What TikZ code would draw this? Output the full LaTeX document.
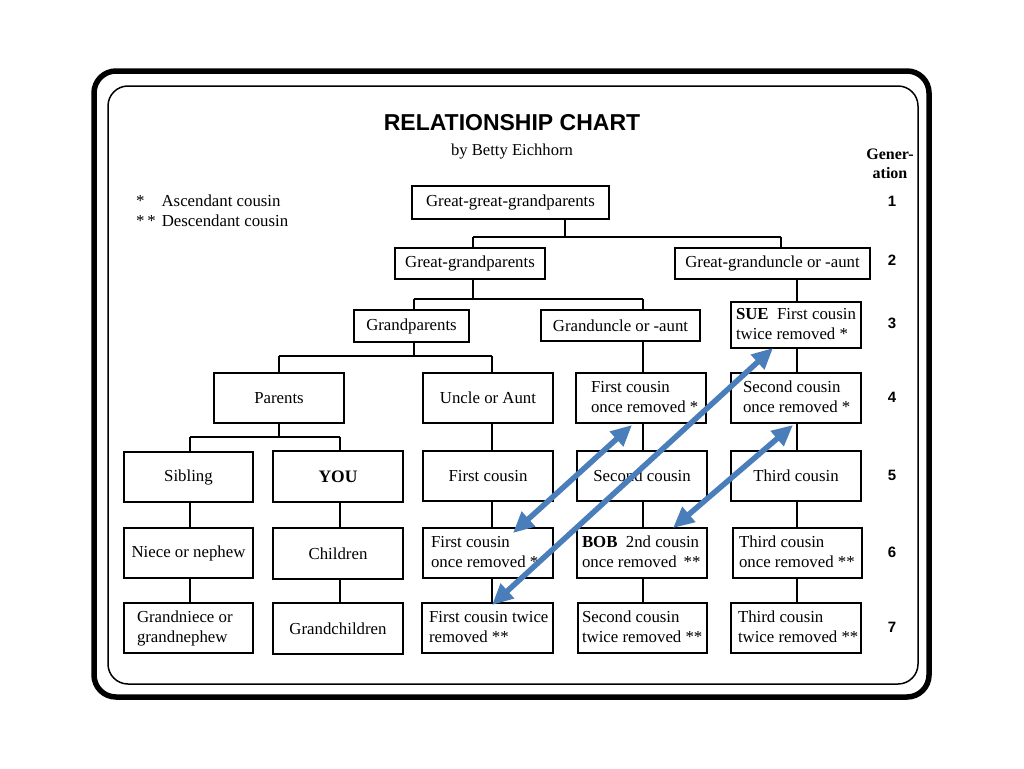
\documentclass[tikz,border=0pt]{standalone}
\usepackage{fontspec}
\setmainfont{Liberation Serif}
\newfontfamily\sansbf{Liberation Sans}[BoldFont={* Bold}]
\usetikzlibrary{arrows.meta}
\definecolor{arrowblue}{RGB}{74,126,187}
\newcommand{\bodyf}{\fontsize{16.8}{20}\selectfont}
\newcommand{\ltext}[3]{\makebox[#1pt][l]{\hspace*{#2pt}\begin{tabular}{@{}l@{}}#3\end{tabular}}}
\begin{document}
\begin{tikzpicture}[x=1pt,y=-1pt,
  box/.style={draw, line width=1.1pt, inner sep=0pt, font=\bodyf, align=center},
  lbox/.style={draw, line width=1.1pt, inner sep=0pt, font=\bodyf},
  conn/.style={line width=1.2pt},
  bigarrow/.style={draw=arrowblue, line width=5.5pt,
     {Triangle[length=21pt,width=19pt]}-{Triangle[length=21pt,width=19pt]}},
  gennum/.style={font=\sansbf\bfseries\fontsize{15}{15}\selectfont}]
\fill[white] (0,0) rectangle (1024,768);
\useasboundingbox (0,0) rectangle (1024,768);

% frames
\draw[line width=5.5pt, rounded corners=22pt] (94,71) rectangle (929,697);
\draw[line width=1.5pt, rounded corners=20pt] (108,86) rectangle (918,684);

% title
\node[font=\sansbf\bfseries\fontsize{23}{23}\selectfont] (title) at (512,123) {RELATIONSHIP CHART};
\node[font=\fontsize{16.6}{20}\selectfont] (sub) at (512,152) {by Betty Eichhorn};

% legend
\node[font=\bodyf, anchor=base west, inner sep=0pt] (lg1) at (136,206) {*\hspace{17pt}Ascendant cousin};
\node[font=\bodyf, anchor=base west, inner sep=0pt] (lg2) at (136,226) {*\,*\hspace{6pt}Descendant cousin};

% generation column
\node[font=\fontsize{16}{19}\selectfont\bfseries, align=center, inner sep=0pt] (gen) at (890,164) {Gener-\\ation};
\node[gennum] (g1) at (892,201) {1};
\node[gennum] (g2) at (892,260) {2};
\node[gennum] (g3) at (892,323) {3};
\node[gennum] (g4) at (892,397) {4};
\node[gennum] (g5) at (892,475) {5};
\node[gennum] (g6) at (892,552) {6};
\node[gennum] (g7) at (892,627) {7};

% boxes
\node[box, minimum width=197pt, minimum height=33pt] (ggg) at (510.5,202.5) {Great-great-grandparents};
\node[box, minimum width=150pt, minimum height=31pt] (ggp) at (470,263.5) {Great-grandparents};
\node[box, minimum width=195pt, minimum height=31pt] (ggua) at (772.5,263.5) {Great-granduncle or -aunt};
\node[box, minimum width=115pt, minimum height=32pt] (gp) at (411.5,326) {Grandparents};
\node[box, minimum width=159pt, minimum height=31pt] (gua) at (620.5,325.5) {Granduncle or -aunt};
\node[lbox, minimum height=46pt] (sue) at (796,325) {\ltext{130}{5}{\textbf{SUE}~ First cousin\\twice removed *}};

\node[box, minimum width=130pt, minimum height=50pt] (parents) at (279,398) {Parents};
\node[box, minimum width=130pt, minimum height=50pt] (uncle) at (488,398) {Uncle or Aunt};
\node[lbox, minimum height=50pt] (fcor4) at (641,398) {\ltext{130}{15}{First cousin\\once removed *}};
\node[lbox, minimum height=50pt] (scor4) at (796,398) {\ltext{130}{12}{Second cousin\\once removed *}};

\node[box, minimum width=129pt, minimum height=50pt] (sibling) at (188.5,477) {Sibling};
\node[box, line width=2.6pt, minimum width=130pt, minimum height=51pt, font=\fontsize{17.5}{20}\selectfont\bfseries] (you) at (338,476.5) {YOU};
\node[box, minimum width=130pt, minimum height=50pt] (fc5) at (488,476) {First cousin};
\node[box, minimum width=130pt, minimum height=50pt] (sc5) at (642,476) {Second cousin};
\node[box, minimum width=130pt, minimum height=50pt] (tc5) at (796,476) {Third cousin};

\node[box, minimum width=129pt, minimum height=50pt] (niece) at (188.5,553) {Niece or nephew};
\node[box, minimum width=130pt, minimum height=51pt] (children) at (338,553.5) {Children};
\node[lbox, minimum height=50pt] (fcor6) at (488,553) {\ltext{130}{8}{First cousin\\once removed *}};
\node[lbox, minimum height=50pt] (bob) at (642,553) {\ltext{130}{5}{\textbf{BOB}~ 2nd cousin\\once removed\hspace{7pt}**}};
\node[lbox, minimum height=50pt] (tcor6) at (797.5,553) {\ltext{129}{6}{Third cousin\\once removed **}};

\node[lbox, minimum height=50pt] (gniece) at (188.5,628) {\ltext{129}{13}{Grandniece or\\grandnephew}};
\node[box, minimum width=130pt, minimum height=51pt] (gchildren) at (338,628.5) {Grandchildren};
\node[lbox, minimum height=50pt] (fctr7) at (487.5,628) {\ltext{131}{7}{First cousin twice\\removed **}};
\node[lbox, minimum height=50pt] (sctr7) at (642.5,628) {\ltext{129}{4}{Second cousin\\twice removed **}};
\node[lbox, minimum height=50pt] (tctr7) at (796,628) {\ltext{130}{7}{Third cousin\\twice removed **}};

% junction and column coordinates
\coordinate (j1) at (565,237);
\coordinate (j1l) at (473,237);
\coordinate (j1r) at (781,237);
\coordinate (j2) at (473,299);
\coordinate (j2l) at (414,299);
\coordinate (j2r) at (643,299);
\coordinate (j3) at (414,356);
\coordinate (j3l) at (279,356);
\coordinate (j3r) at (492,356);
\coordinate (j4) at (279,437);
\coordinate (j4l) at (190,437);
\coordinate (j4r) at (340,437);
\coordinate (cs) at (190,0);
\coordinate (cy) at (340,0);
\coordinate (c1) at (492,0);
\coordinate (c2) at (643,0);
\coordinate (c3) at (797,0);

% tree connectors
\draw[conn] (ggg.south -| j1) -- (j1);
\draw[conn] (j1l) -- (j1r);
\draw[conn] (j1l) -- (ggp.north -| j1l);
\draw[conn] (j1r) -- (ggua.north -| j1r);

\draw[conn] (ggp.south -| j2) -- (j2);
\draw[conn] (j2l) -- (j2r);
\draw[conn] (j2l) -- (gp.north -| j2l);
\draw[conn] (j2r) -- (gua.north -| j2r);

\draw[conn] (gp.south -| j3) -- (j3);
\draw[conn] (j3l) -- (j3r);
\draw[conn] (j3l) -- (parents.north -| j3l);
\draw[conn] (j3r) -- (uncle.north -| j3r);

\draw[conn] (parents.south -| j4) -- (j4);
\draw[conn] (j4l) -- (j4r);
\draw[conn] (j4l) -- (sibling.north -| j4l);
\draw[conn] (j4r) -- (you.north -| j4r);

\draw[conn] (sibling.south -| cs) -- (niece.north -| cs);
\draw[conn] (niece.south -| cs) -- (gniece.north -| cs);
\draw[conn] (you.south -| cy) -- (children.north -| cy);
\draw[conn] (children.south -| cy) -- (gchildren.north -| cy);

\draw[conn] (uncle.south -| c1) -- (fc5.north -| c1);
\draw[conn] (fc5.south -| c1) -- (fcor6.north -| c1);
\draw[conn] (fcor6.south -| c1) -- (fctr7.north -| c1);

\draw[conn] (gua.south -| c2) -- (fcor4.north -| c2);
\draw[conn] (fcor4.south -| c2) -- (sc5.north -| c2);
\draw[conn] (sc5.south -| c2) -- (bob.north -| c2);
\draw[conn] (bob.south -| c2) -- (sctr7.north -| c2);

\draw[conn] (ggua.south -| c3) -- (sue.north -| c3);
\draw[conn] (sue.south -| c3) -- (scor4.north -| c3);
\draw[conn] (scor4.south -| c3) -- (tc5.north -| c3);
\draw[conn] (tc5.south -| c3) -- (tcor6.north -| c3);
\draw[conn] (tcor6.south -| c3) -- (tctr7.north -| c3);

% blue double arrows
\coordinate (a1s) at (632,425);
\coordinate (a1e) at (513,533);
\coordinate (a2s) at (773,348);
\coordinate (a2e) at (492,605);
\coordinate (a3s) at (793,425);
\coordinate (a3e) at (673,528);
\draw[bigarrow] (a1e) -- (a1s);
\draw[bigarrow] (a2e) -- (a2s);
\draw[bigarrow] (a3e) -- (a3s);
\end{tikzpicture}
\end{document}
